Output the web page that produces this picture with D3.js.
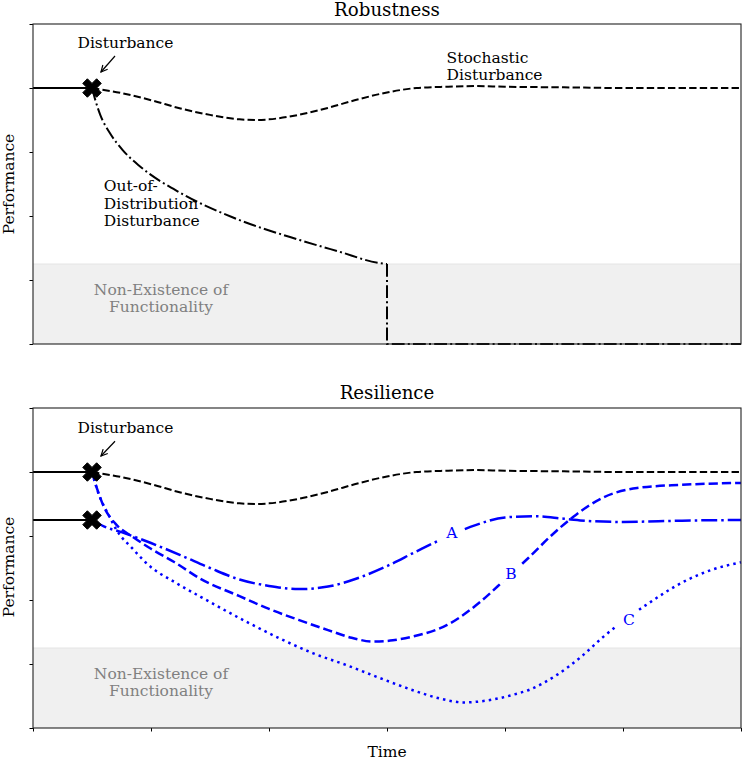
<!DOCTYPE html>
<html>
<head>
<meta charset="utf-8">
<script src="https://cdn.jsdelivr.net/npm/d3@7"></script>
<style>
  body { margin: 0; background: #fff; }
  text { font-family: "DejaVu Serif", serif; }
</style>
</head>
<body>
<div id="chart"></div>
<script>
// axis ticks (no labels shown) and the levels used in both panels
const timeTicks = [0, 1, 2, 3, 4, 5, 6]
const perfTicks = [0, 1, 2, 3, 4, 5]
const nominal = 4.0
const degraded = 3.25
const disturbT = 0.5
const voidLevel = 1.25

// normal operation before the disturbance
const beforeHigh = [[0, nominal], [disturbT, nominal]]
const beforeLow = [[0, degraded], [disturbT, degraded]]

// stochastic disturbance (black dashed), used in both panels
const stochastic = [[0.5, 4.0], [0.75, 3.92], [1.0, 3.81], [1.25, 3.68], [1.5, 3.58], [1.75, 3.51],
  [1.9, 3.50], [2.0, 3.51], [2.25, 3.58], [2.5, 3.69], [2.75, 3.82], [3.0, 3.93], [3.25, 4.00],
  [3.5, 4.02], [3.75, 4.03], [4.0, 4.02], [4.5, 4.01], [5.0, 4.0], [5.5, 4.0], [6.0, 4.0]]

// out-of-distribution disturbance (black dash-dot)
const oodDecline = [[0.5, 4.0], [0.53, 3.80], [0.57, 3.58], [0.65, 3.30], [0.76, 3.03], [0.91, 2.77],
  [1.25, 2.36], [1.69, 1.98], [2.26, 1.625], [2.6, 1.44], [2.92, 1.27], [3.0, 1.25]]
const oodCollapse = [[3.0, 1.25], [3.0, 0], [6.0, 0]]

// resilience curves A, B, C (blue)
const recoveryA = [[0.5, 3.25], [0.6, 3.15], [0.75, 3.06], [1.0, 2.89], [1.25, 2.70], [1.5, 2.50],
  [1.75, 2.32], [2.0, 2.22], [2.25, 2.17], [2.5, 2.21], [2.75, 2.34], [3.0, 2.53], [3.25, 2.76],
  [3.5, 2.98], [3.75, 3.17], [4.0, 3.29], [4.25, 3.31], [4.5, 3.27], [4.75, 3.23], [5.0, 3.22],
  [5.5, 3.24], [6.0, 3.25]]
const recoveryB = [[0.5, 4.0], [0.55, 3.70], [0.6, 3.46], [0.7, 3.19], [0.85, 2.98], [1.0, 2.80],
  [1.2, 2.59], [1.42, 2.33], [1.75, 2.06], [2.0, 1.86], [2.25, 1.69], [2.5, 1.53], [2.7, 1.41],
  [2.88, 1.35], [3.05, 1.37], [3.22, 1.43], [3.51, 1.61], [3.79, 1.97], [4.0, 2.32], [4.2, 2.66],
  [4.4, 3.02], [4.6, 3.33], [4.83, 3.60], [5.12, 3.75], [5.5, 3.80], [6.0, 3.83]]
const recoveryC = [[0.5, 4.0], [0.55, 3.69], [0.64, 3.33], [0.72, 3.06], [0.84, 2.81], [0.97, 2.56],
  [1.2, 2.28], [1.42, 2.05], [1.84, 1.63], [2.09, 1.40], [2.37, 1.17], [2.66, 0.98], [2.94, 0.78],
  [3.22, 0.59], [3.45, 0.46], [3.65, 0.40], [3.85, 0.43], [4.05, 0.51], [4.21, 0.60], [4.44, 0.83],
  [4.65, 1.12], [4.83, 1.42], [5.0, 1.67], [5.17, 1.89], [5.54, 2.31], [5.75, 2.47], [6.0, 2.59]]

// inline curve labels
const curveLabels = [
  { name: "A", t: 3.55, v: 3.05 },
  { name: "B", t: 4.05, v: 2.41 },
  { name: "C", t: 5.05, v: 1.69 }
]

const width = 747
const height = 761
const fontSize = 15.5

const svg = d3.select("#chart").append("svg")
  .attr("width", width)
  .attr("height", height)

// open arrow head for the "Disturbance" annotation
svg.append("defs").append("marker")
  .attr("id", "arrow")
  .attr("markerUnits", "userSpaceOnUse")
  .attr("viewBox", "-8 -5 10 10")
  .attr("markerWidth", 10).attr("markerHeight", 10)
  .attr("refX", 0).attr("refY", 0)
  .attr("orient", "auto")
  .append("path")
  .attr("d", "M-6.5,-3.2 L0,0 L-6.5,3.2")
  .attr("fill", "none").attr("stroke", "black").attr("stroke-width", 1.2)

const x = d3.scaleLinear().domain([0, 6]).range([33, 741])

// matplotlib style filled X marker
function xMarker(g, cx, cy, s) {
  const pts = [[-0.25, -0.5], [0, -0.25], [0.25, -0.5], [0.5, -0.25], [0.25, 0], [0.5, 0.25],
    [0.25, 0.5], [0, 0.25], [-0.25, 0.5], [-0.5, 0.25], [-0.25, 0], [-0.5, -0.25]]
  g.append("polygon")
    .attr("points", pts.map(p => `${cx + p[0] * s},${cy + p[1] * s}`).join(" "))
    .attr("fill", "black").attr("stroke", "black").attr("stroke-width", 1)
}

function makePanel(top, bottom) {
  const y = d3.scaleLinear().domain([0, 5]).range([bottom, top])
  const g = svg.append("g")
  const line = d3.line().x(d => x(d[0])).y(d => y(d[1])).curve(d3.curveMonotoneX)
  const straight = d3.line().x(d => x(d[0])).y(d => y(d[1]))

  // grey "non-existence" zone
  g.append("rect")
    .attr("x", x(0)).attr("y", y(voidLevel))
    .attr("width", x(6) - x(0)).attr("height", y(0) - y(voidLevel))
    .attr("fill", "#f0f0f0")
  g.append("line")
    .attr("x1", x(0)).attr("x2", x(6))
    .attr("y1", y(voidLevel)).attr("y2", y(voidLevel))
    .attr("stroke", "#e4e4e4").attr("stroke-width", 1)

  g.append("text")
    .attr("x", x(1.085)).attr("y", y(0.766))
    .attr("text-anchor", "middle").attr("fill", "#808080")
    .attr("font-size", fontSize)
    .selectAll("tspan").data(["Non-Existence of", "Functionality"]).enter()
    .append("tspan").attr("x", x(1.085)).attr("dy", (d, i) => i ? 17.5 : 0).text(d => d)

  return { g, y, line, straight }
}

function frame(p, top, bottom, showTime) {
  const { g, y } = p
  const yAxis = d3.axisLeft(y).tickValues(perfTicks).tickFormat("").tickSize(3.5).tickSizeOuter(0)
  const ya = g.append("g").attr("transform", `translate(${x(0)},0)`).call(yAxis)
  ya.select(".domain").remove()
  ya.selectAll("line").attr("stroke-width", 1)
  if (showTime) {
    const xAxis = d3.axisBottom(x).tickValues(timeTicks).tickFormat("").tickSize(3.5).tickSizeOuter(0)
    const xa = g.append("g").attr("transform", `translate(0,${bottom})`).call(xAxis)
    xa.select(".domain").remove()
    xa.selectAll("line").attr("stroke-width", 1)
  }
  g.append("rect")
    .attr("x", x(0)).attr("y", top)
    .attr("width", x(6) - x(0)).attr("height", bottom - top)
    .attr("fill", "none").attr("stroke", "#222").attr("stroke-width", 1.1)
}

function drawPath(p, data, gen, color, w, dash) {
  p.g.append("path")
    .attr("d", gen(data))
    .attr("fill", "none")
    .attr("stroke", color)
    .attr("stroke-width", w)
    .attr("stroke-dasharray", dash)
}

function annotateDisturbance(p, tv, from, to) {
  p.g.append("text")
    .attr("x", x(tv[0])).attr("y", p.y(tv[1]))
    .attr("font-size", fontSize)
    .text("Disturbance")
  p.g.append("line")
    .attr("x1", x(from[0])).attr("y1", p.y(from[1]))
    .attr("x2", x(to[0])).attr("y2", p.y(to[1]))
    .attr("stroke", "black").attr("stroke-width", 1.2)
    .attr("marker-end", "url(#arrow)")
}

const dashed = "7.4,3.2"
const dashdot = "12.8,3.2,2,3.2"

// ---------------- Robustness ----------------
const rob = makePanel(24, 344)
drawPath(rob, beforeHigh, rob.straight, "black", 2, null)
drawPath(rob, stochastic, rob.line, "black", 2, dashed)
drawPath(rob, oodDecline, rob.line, "black", 2, dashdot)
drawPath(rob, oodCollapse, rob.straight, "black", 2, dashdot)
xMarker(rob.g, x(disturbT), rob.y(nominal), 18.5)
annotateDisturbance(rob, [0.377, 4.625], [0.695, 4.5], [0.576, 4.25])

rob.g.append("text")
  .attr("x", x(3.505)).attr("y", rob.y(4.39))
  .attr("font-size", fontSize)
  .selectAll("tspan").data(["Stochastic", "Disturbance"]).enter()
  .append("tspan").attr("x", x(3.505)).attr("dy", (d, i) => i ? 17 : 0).text(d => d)

rob.g.append("text")
  .attr("x", x(0.6)).attr("y", rob.y(2.39))
  .attr("font-size", fontSize)
  .selectAll("tspan").data(["Out-of-", "Distribution", "Disturbance"]).enter()
  .append("tspan").attr("x", x(0.6)).attr("dy", (d, i) => i ? 17.5 : 0).text(d => d)

frame(rob, 24, 344, false)

// ---------------- Resilience ----------------
const res = makePanel(408, 728)
drawPath(res, beforeHigh, res.straight, "black", 2, null)
drawPath(res, beforeLow, res.straight, "black", 2, null)
drawPath(res, stochastic, res.line, "black", 2, dashed)
drawPath(res, recoveryA, res.line, "blue", 2.5, "16,4,2.5,4")
drawPath(res, recoveryB, res.line, "blue", 2.5, "9.25,4")
drawPath(res, recoveryC, res.line, "blue", 2.5, "2.5,4.1")

// labels sit inside a white box that cuts a gap in their curve
const lab = res.g.selectAll(".curveLabel").data(curveLabels).enter().append("g")
  .attr("transform", d => `translate(${x(d.t)},${res.y(d.v)})`)
lab.append("rect")
  .attr("x", -12).attr("y", -9).attr("width", 24).attr("height", 18)
  .attr("fill", "white")
lab.append("text")
  .attr("text-anchor", "middle").attr("dy", "0.36em")
  .attr("font-size", fontSize).attr("fill", "blue")
  .text(d => d.name)

xMarker(res.g, x(disturbT), res.y(nominal), 18.5)
xMarker(res.g, x(disturbT), res.y(degraded), 18.5)
annotateDisturbance(res, [0.377, 4.61], [0.695, 4.48], [0.576, 4.25])

frame(res, 408, 728, true)

// titles and axis labels
svg.append("text").attr("x", 387).attr("y", 15.5).attr("text-anchor", "middle")
  .attr("font-size", 18.2).text("Robustness")
svg.append("text").attr("x", 387).attr("y", 399).attr("text-anchor", "middle")
  .attr("font-size", 18.2).text("Resilience")
svg.append("text").attr("x", 387).attr("y", 757).attr("text-anchor", "middle")
  .attr("font-size", fontSize).text("Time")
svg.append("text").attr("transform", "translate(14,184) rotate(-90)").attr("text-anchor", "middle")
  .attr("font-size", fontSize).text("Performance")
svg.append("text").attr("transform", "translate(14,567) rotate(-90)").attr("text-anchor", "middle")
  .attr("font-size", fontSize).text("Performance")
</script>
</body>
</html>
